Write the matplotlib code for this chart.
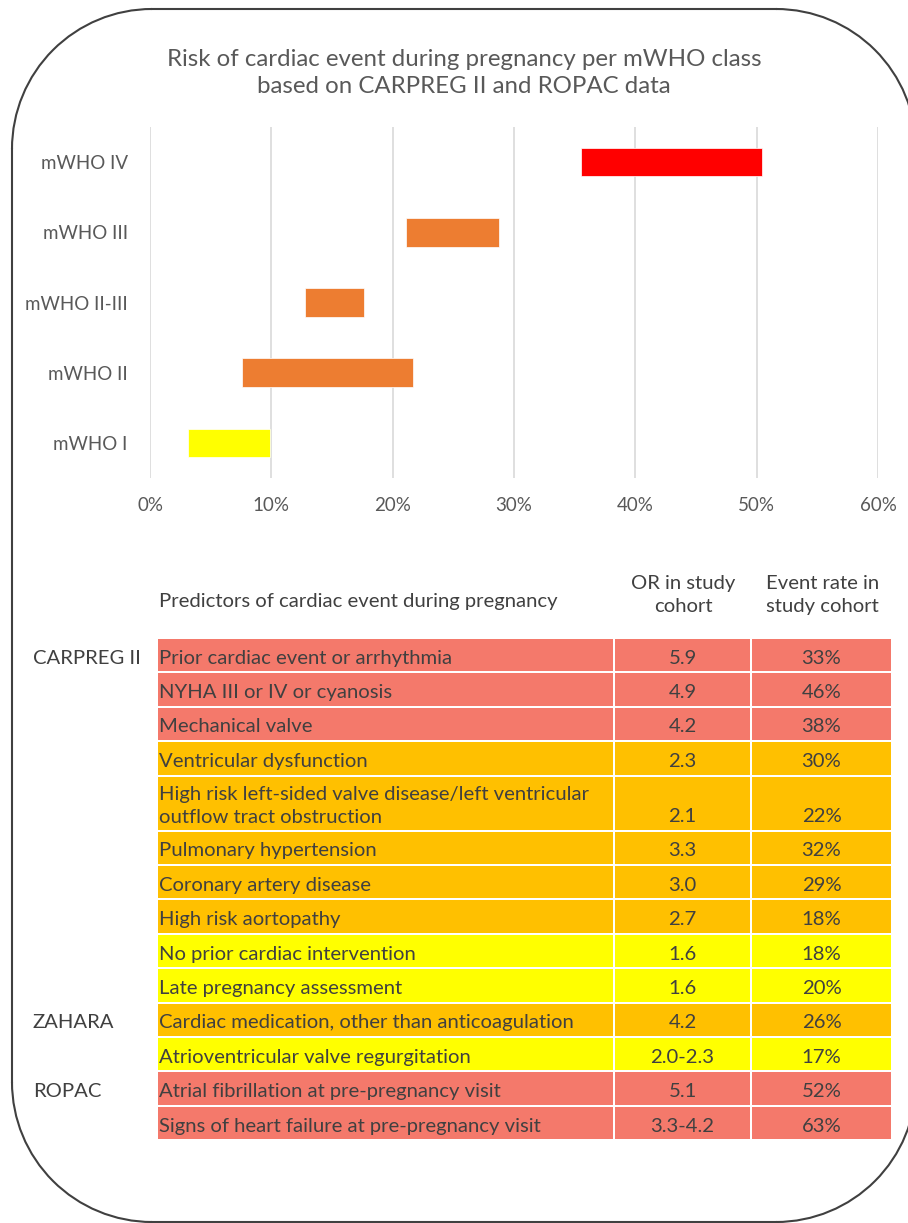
import matplotlib
matplotlib.use('Agg')
import matplotlib.pyplot as plt
from matplotlib.patches import Arc, Rectangle
from matplotlib.ticker import FuncFormatter

# top chart: risk range (%) per mWHO class
classes    = ['mWHO I', 'mWHO II', 'mWHO II-III', 'mWHO III', 'mWHO IV']
risk_low   = [3.1, 7.6, 12.8, 21.1, 35.5]
risk_high  = [9.9, 21.7, 17.6, 28.8, 50.4]
bar_colors = ['#FFFF00', '#ED7D31', '#ED7D31', '#ED7D31', '#FF0000']
x_ticks    = [0, 10, 20, 30, 40, 50, 60]

# bottom table
header_pred = 'Predictors of cardiac event during pregnancy'
header_or   = 'OR in study\ncohort'
header_rate = 'Event rate in\nstudy cohort'
sources     = ['CARPREG II', '', '', '', '', '', '', '', '', '',
               'ZAHARA', '', 'ROPAC', '']
predictors  = ['Prior cardiac event or arrhythmia',
               'NYHA III or IV or cyanosis',
               'Mechanical valve',
               'Ventricular dysfunction',
               'High risk left-sided valve disease/left ventricular\noutflow tract obstruction',
               'Pulmonary hypertension',
               'Coronary artery disease',
               'High risk aortopathy',
               'No prior cardiac intervention',
               'Late pregnancy assessment',
               'Cardiac medication, other than anticoagulation',
               'Atrioventricular valve regurgitation',
               'Atrial fibrillation at pre-pregnancy visit',
               'Signs of heart failure at pre-pregnancy visit']
or_values   = ['5.9', '4.9', '4.2', '2.3', '2.1', '3.3', '3.0', '2.7',
               '1.6', '1.6', '4.2', '2.0-2.3', '5.1', '3.3-4.2']
event_rates = ['33%', '46%', '38%', '30%', '22%', '32%', '29%', '18%',
               '18%', '20%', '26%', '17%', '52%', '63%']
risk_level  = ['high', 'high', 'high', 'mid', 'mid', 'mid', 'mid', 'mid',
               'low', 'low', 'mid', 'low', 'high', 'high']
level_colors = {'high': '#F4796B', 'mid': '#FFC000', 'low': '#FFFF00'}

FONT = 'Lato'
GREY = '#595959'
TEXT = '#404040'

W, H = 908, 1223
fig = plt.figure(figsize=(W / 100, H / 100), dpi=100)

# rounded frame, pixel units with y up; right side runs past the image edge
fa = fig.add_axes([0, 0, 1, 1])
fa.set_xlim(0, W)
fa.set_ylim(0, H)
fa.axis('off')
x0, x1, y0, y1, r = 12, 916, 1, 1214, 140
fkw = dict(color='#404040', linewidth=1.5)
fa.plot([x0 + r, x1 - r], [y1, y1], **fkw)
fa.plot([x0 + r, x1 - r], [y0, y0], **fkw)
fa.plot([x0, x0], [y0 + r, y1 - r], **fkw)
fa.plot([x1, x1], [y0 + r, y1 - r], **fkw)
for cx, cy, t1 in [(x1 - r, y1 - r, 0), (x0 + r, y1 - r, 90), (x0 + r, y0 + r, 180), (x1 - r, y0 + r, 270)]:
    fa.add_patch(Arc((cx, cy), 2 * r, 2 * r, theta1=t1, theta2=t1 + 90,
                     edgecolor='#404040', linewidth=1.5))

# full-figure axes in pixel units (y down) for title and table
bg = fig.add_axes([0, 0, 1, 1])
bg.set_xlim(0, W)
bg.set_ylim(H, 0)
bg.axis('off')

bg.text(464, 73, 'Risk of cardiac event during pregnancy per mWHO class\nbased on CARPREG II and ROPAC data',
        ha='center', va='center', fontsize=17.3, color=GREY, family=FONT,
        linespacing=1.3)

# ---- floating bar chart
ax = fig.add_axes([150 / W, 1 - 478 / H, (878 - 150) / W, (478 - 127) / H])
ypos = range(len(classes))
widths = [h - l for l, h in zip(risk_low, risk_high)]
ax.barh(ypos, widths, left=risk_low, height=0.41, color=bar_colors,
        edgecolor='white', linewidth=0.5, zorder=3)
ax.set_xlim(0, 60)
ax.set_ylim(-0.5, len(classes) - 0.5)
ax.set_xticks(x_ticks)
ax.xaxis.set_major_formatter(FuncFormatter(lambda v, p: '%d%%' % v))
ax.set_yticks(list(ypos))
ax.set_yticklabels(classes)
ax.grid(axis='x', color='#D9D9D9', linewidth=1.2, zorder=0)
for s in ax.spines.values():
    s.set_visible(False)
ax.tick_params(axis='both', length=0, colors=GREY, labelsize=13.5)
ax.tick_params(axis='x', pad=14)
ax.tick_params(axis='y', pad=16)
for lab in ax.get_xticklabels() + ax.get_yticklabels():
    lab.set_family(FONT)

# ---- table
col_edges = [158, 615, 752, 893]
gap = 2
top = 639
unit = 34.4
tsize = 14.6

bg.text(col_edges[0] + 1, 602, header_pred, ha='left', va='center', fontsize=tsize, color=TEXT, family=FONT)
bg.text((col_edges[1] + col_edges[2]) / 2, 595, header_or, ha='center', va='center',
        fontsize=tsize, color=TEXT, family=FONT, linespacing=1.45)
bg.text((col_edges[2] + col_edges[3]) / 2, 595, header_rate, ha='center', va='center',
        fontsize=tsize, color=TEXT, family=FONT, linespacing=1.45)

y = top
for i, pred in enumerate(predictors):
    h = unit * (1.6 if '\n' in pred else 1.0)
    color = level_colors[risk_level[i]]
    for c in range(3):
        bg.add_patch(Rectangle((col_edges[c], y), col_edges[c + 1] - col_edges[c] - gap, h - gap,
                               facecolor=color, edgecolor='none'))
    mid = y + (h - gap) / 2 + 3
    last = y + h - gap - (unit - gap) / 2 + 3
    bg.text(col_edges[0] + 1, mid, pred, ha='left', va='center', fontsize=tsize,
            color=TEXT, family=FONT, linespacing=1.4)
    bg.text((col_edges[1] + col_edges[2] - gap) / 2, last, or_values[i], ha='center', va='center',
            fontsize=tsize, color=TEXT, family=FONT)
    bg.text((col_edges[2] + col_edges[3] - gap) / 2, last, event_rates[i], ha='center', va='center',
            fontsize=tsize, color=TEXT, family=FONT)
    if sources[i]:
        bg.text(33, mid, sources[i], ha='left', va='center', fontsize=tsize, color=TEXT, family=FONT)
    y += h

fig.savefig('out.png', dpi=100)
